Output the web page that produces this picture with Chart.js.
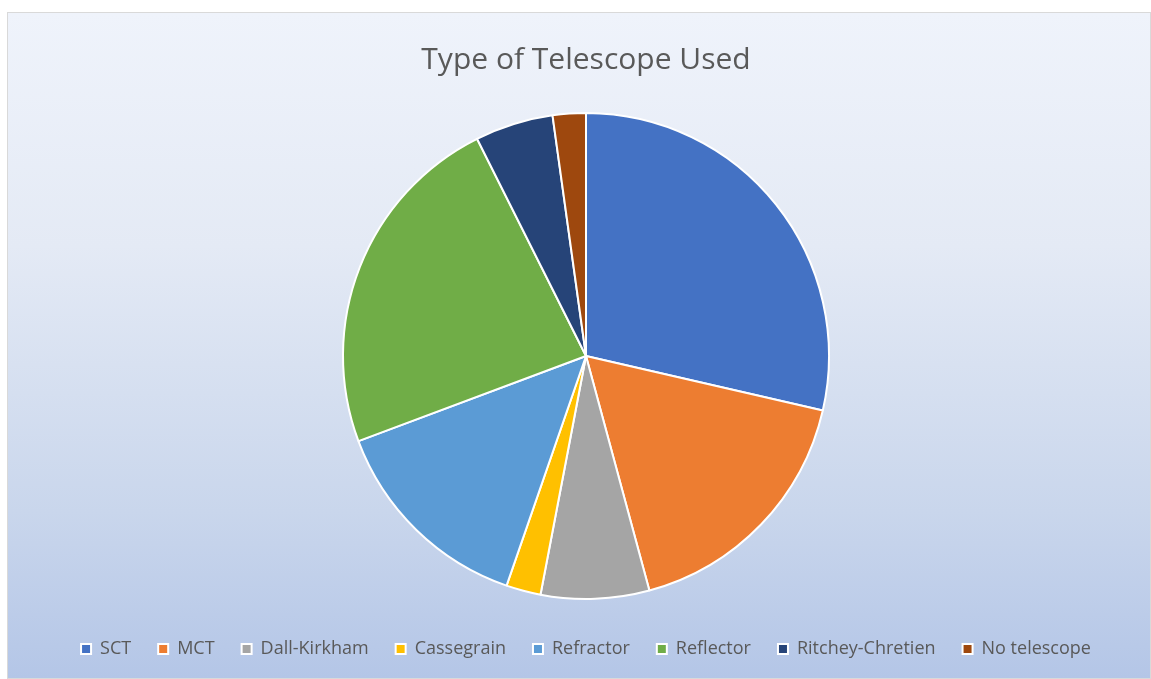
<!DOCTYPE html>
<html>
<head>
<meta charset="utf-8">
<script src="https://cdn.jsdelivr.net/npm/chart.js@4"></script>
<style>
  html, body { margin: 0; padding: 0; background: #fff; }
  #box {
    position: absolute; left: 7px; top: 12px; width: 1142px; height: 665px;
    border: 1px solid #d9d9d9;
    background: linear-gradient(to bottom, #eff3fb 0%, #e4eaf5 35%, #c9d6ec 75%, #b4c6e7 100%);
  }
  #chart { display: block; }
</style>
</head>
<body>
<div id="box"><canvas id="chart" width="1142" height="665"></canvas></div>
<script>
const labels = ['SCT', 'MCT', 'Dall-Kirkham', 'Cassegrain', 'Refractor', 'Reflector', 'Ritchey-Chretien', 'No telescope'];
const shares = [28.6, 17.2, 7.2, 2.3, 14.0, 23.3, 5.2, 2.2];
const colors = ['#4472c4', '#ed7d31', '#a5a5a5', '#ffc000', '#5b9bd5', '#70ad47', '#264478', '#9e480e'];

const ctx = document.getElementById('chart');
new Chart(ctx, {
  type: 'pie',
  data: {
    labels: labels,
    datasets: [{
      data: shares,
      backgroundColor: colors,
      borderColor: '#ffffff',
      borderWidth: 2,
      radius: 243
    }]
  },
  options: {
    responsive: false,
    animation: false,
    layout: { padding: { left: 14, right: 0, top: 0, bottom: 10 } },
    plugins: {
      title: {
        display: true,
        text: 'Type of Telescope Used',
        color: '#595959',
        font: { family: 'Open Sans', size: 30, weight: 'normal' },
        padding: { top: 29, bottom: 21 }
      },
      legend: {
        position: 'bottom',
        labels: {
          color: '#595959',
          font: { family: 'Open Sans', size: 18 },
          usePointStyle: true,
          pointStyle: 'rect',
          boxWidth: 10,
          boxHeight: 10,
          padding: 27
        }
      },
      tooltip: { enabled: false }
    }
  }
});
</script>
</body>
</html>
